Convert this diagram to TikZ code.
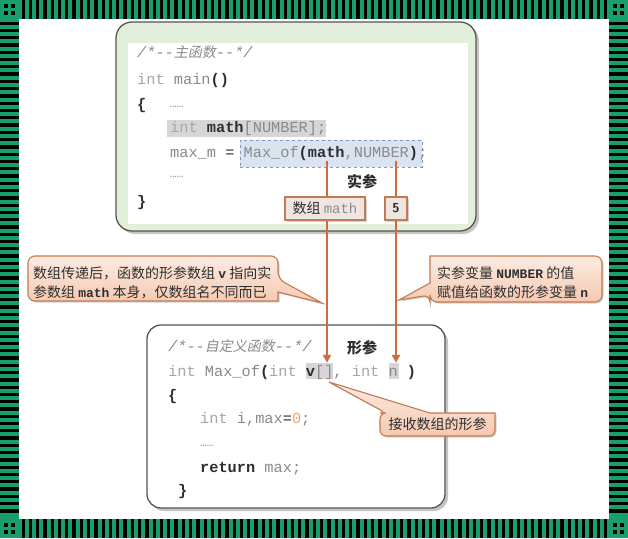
\documentclass[tikz,border=0pt]{standalone}
\usepackage{fontspec}
\setmonofont{Liberation Mono}
\newfontfamily\cjk{Noto Sans CJK SC}
\newfontfamily\cjkit{Noto Sans CJK SC}[FakeSlant=0.2]
\usetikzlibrary{shadows,arrows.meta}
\definecolor{bandgreen}{HTML}{17A06B}
\definecolor{boxgreen}{HTML}{E2EFDB}
\definecolor{framec}{HTML}{555555}
\definecolor{codegray}{HTML}{8A8A8A}
\definecolor{codelight}{HTML}{A6A6A6}
\definecolor{codedark}{HTML}{2E2E2E}
\definecolor{hl}{HTML}{D6D6D6}
\definecolor{dashfill}{HTML}{DAE4F1}
\definecolor{dashdraw}{HTML}{7F98BD}
\definecolor{orangeline}{HTML}{D06A40}
\definecolor{calltop}{HTML}{FCEBE1}
\definecolor{callbot}{HTML}{F5C9B1}
\definecolor{calldraw}{HTML}{C47A52}
\definecolor{labfill}{HTML}{EFE6E1}
\definecolor{zeroc}{HTML}{E8A271}
\newcommand\dk[1]{{\color{codedark}\bfseries #1}}
\newcommand\kw[1]{{\color{codelight}#1}}
\begin{document}
\begin{tikzpicture}[x=1pt,y=-1pt,
  code/.style={anchor=base west, inner sep=0pt, text=codegray,
    font=\fontsize{15.3}{15.3}\selectfont\ttfamily},
  boldcjk/.style={inner sep=0pt, text=codedark, font=\fontsize{15}{15}\selectfont\cjk\bfseries},
  hlnode/.style={fill=hl, inner sep=0pt},
  dashbox/.style={fill=dashfill, draw=dashdraw, dashed, line width=0.9pt, inner sep=0pt},
  labbox/.style={fill=labfill, draw=calldraw, line width=1.1pt, inner sep=0pt,
    drop shadow={shadow xshift=1.5pt, shadow yshift=-1.5pt, opacity=.35},
    text=codedark, font=\fontsize{14}{14}\selectfont\cjk},
  oline/.style={draw=orangeline, line width=2pt, -{Triangle[width=8pt,length=8pt]}},
  callout/.style={top color=calltop, bottom color=callbot, draw=calldraw, line width=1.1pt,
    drop shadow={shadow xshift=1.5pt, shadow yshift=-1.5pt, opacity=.35}},
  calltext/.style={anchor=base west, inner sep=0pt, text=codedark,
    font=\fontsize{14}{14}\selectfont\cjk},
  bigbox/.style={draw=framec, line width=1.3pt,
    drop shadow={shadow xshift=3pt, shadow yshift=-3pt, opacity=.45}}
]
\useasboundingbox (0,0) rectangle (628,538);
\fill[white] (0,0) rectangle (628,538);
% ---- striped frame ----
\fill[bandgreen] (0,0) rectangle (628,19);
\fill[bandgreen] (0,519) rectangle (628,538);
\fill[bandgreen] (0,19) rectangle (19,519);
\fill[bandgreen] (609,19) rectangle (628,519);
\foreach \i in {0,...,80}{
  \fill[black] ({21.5+\i*7.28},0) rectangle ++(3.3,19);
  \fill[black] ({21.5+\i*7.28},519) rectangle ++(3.3,19);
}
\foreach \i in {0,...,67}{
  \fill[black] (0,{21.5+\i*7.28}) rectangle ++(19,3.3);
  \fill[black] (609,{21.5+\i*7.28}) rectangle ++(19,3.3);
}
\foreach \cx/\cy in {0/0,609/0,0/519,609/519}{
  \foreach \dx/\dy in {4/4,11/4,4/11,11/11}{
    \fill[black] ({\cx+\dx},{\cy+\dy}) rectangle ++(4,4);
  }
}
% ---- top box (main) ----
\path[bigbox, fill=boxgreen, rounded corners=16pt] (116,22) rectangle (476,231);
\fill[white] (128,43) rectangle (468,224);
\node[hlnode, minimum width=159pt, minimum height=17pt] (hmath) at (246.5,128) {};
\node[dashbox, minimum width=182pt, minimum height=27pt] (callbox) at (331,153.5) {};
\node[code] (t1) at (137,57) {\itshape /*--{\cjkit\fontsize{14}{14}\selectfont 主函数}--*/};
\node[code] (t2) at (137,84) {\kw{int} main\dk{()}};
\node[code] (t3a) at (137,109) {\dk{\{}};
\node[code] (t3b) at (170,107) {\fontsize{11}{11}\selectfont ……};
\node[code] (t4) at (170,132) {\kw{int} \dk{math}[NUMBER];};
\node[code] (t5) at (170,157) {max\_m {\color{codedark}=} Max\_of\dk{(math},NUMBER\dk{)};};
\node[code] (t6) at (170,177) {\fontsize{11}{11}\selectfont ……};
\node[code] (t7) at (137,206) {\dk{\}}};
\node[boldcjk] (shican) at (362,182) {实参};
\coordinate (am) at (327,161);
\coordinate (an) at (396,161);
% ---- bottom box (function) ----
\path[bigbox, fill=white, rounded corners=14pt] (147,325) rectangle (445,508);
\node[hlnode, minimum width=27pt, minimum height=16pt] (vh) at (319.5,371) {};
\node[hlnode, minimum width=10pt, minimum height=16pt] (nh) at (393.5,371) {};
\node[code] (b1) at (168,351) {\itshape /*--{\cjkit\fontsize{14}{14}\selectfont 自定义函数}--*/};
\node[boldcjk] (xingcan) at (362,348) {形参};
\node[code] (b2) at (168,376) {\kw{int} Max\_of\dk{(}\kw{int} \dk{v}[], \kw{int} n \dk{)}};
\node[code] (b3) at (168,400) {\dk{\{}};
\node[code] (b4) at (200,423) {\kw{int} i,max{\color{codedark}=}\textcolor{zeroc}{0};};
\node[code] (b5) at (200,446) {\fontsize{11}{11}\selectfont ……};
\node[code] (b6) at (200,472) {\dk{return} max;};
\node[code] (b7) at (178,495) {\dk{\}}};
% ---- arrows ----
\draw[oline] (am) -- (am |- vh.north);
\draw[oline] (an) -- (an |- nh.north);
\node[labbox, minimum width=80pt, minimum height=23pt] (lmath) at (325,208.5) {数组 {\ttfamily\color{codegray} math}};
\node[labbox, minimum width=22pt, minimum height=23pt, font=\fontsize{13}{13}\selectfont\sffamily\bfseries] (lfive) at (396,208.5) {5};
% ---- callouts ----
\path[callout] (150,256) [rounded corners=7pt] -- (278,256) -- (278,279) [sharp corners] -- (322,303) -- (278,292) -- (278,301) [rounded corners=7pt] -- (28,301) -- (28,256) -- cycle;
\node[calltext] (c1a) at (33,278) {数组传递后，函数的形参数组 {\ttfamily\bfseries\fontsize{13}{13}\selectfont v} 指向实};
\node[calltext] (c1b) at (33,297) {参数组 {\ttfamily\bfseries\fontsize{13}{13}\selectfont math} 本身，仅数组名不同而已};
\path[callout] (516,256) [rounded corners=7pt] -- (602,256) -- (602,302) -- (430,302) -- (430,295) [sharp corners] -- (399,300) -- (430,283) -- (430,256) [rounded corners=7pt] -- cycle;
\node[calltext] (c2a) at (437,278) {实参变量 {\ttfamily\bfseries\fontsize{13}{13}\selectfont NUMBER} 的值};
\node[calltext] (c2b) at (437,297) {赋值给函数的形参变量 {\ttfamily\bfseries\fontsize{13}{13}\selectfont n}};
\path[callout] (495,424) [rounded corners=6pt] -- (495,436) -- (380,436) -- (380,413) -- (386,413) [sharp corners] -- (329,382) -- (430,413) -- (495,413) [rounded corners=6pt] -- cycle;
\node[inner sep=0pt, text=codedark, font=\fontsize{14}{14}\selectfont\cjk] (c3) at (437.5,424.5) {接收数组的形参};
\end{tikzpicture}
\end{document}
